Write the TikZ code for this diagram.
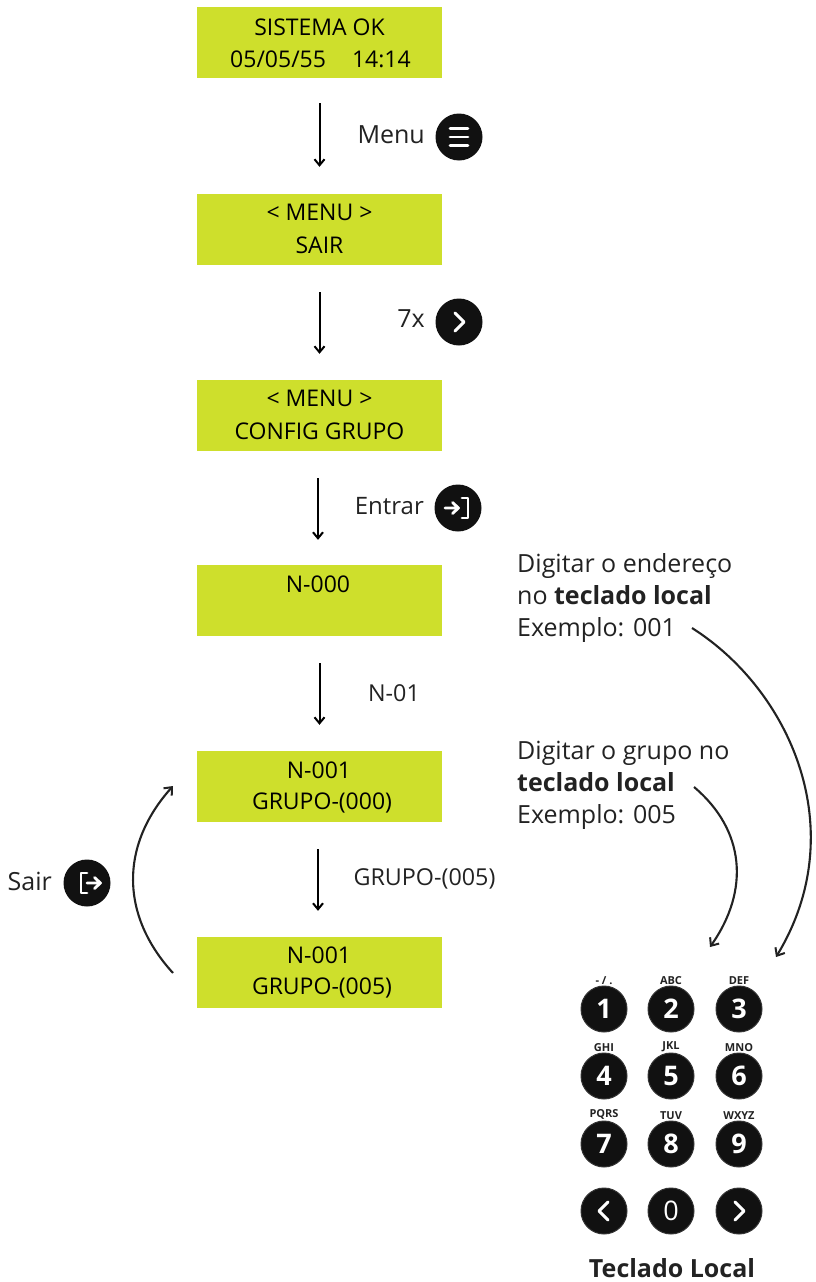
\documentclass[tikz,border=0pt]{standalone}
\usepackage{fontspec}
\setmainfont{Open Sans}
\usetikzlibrary{arrows.meta}
\definecolor{lcd}{HTML}{CEDF2C}
\definecolor{ink}{HTML}{111111}
\definecolor{txt}{HTML}{222222}
\begin{document}
\begin{tikzpicture}[x=1pt,y=-1pt,
  lcdbox/.style={fill=lcd,draw=none,minimum width=245pt,minimum height=71pt,inner sep=0pt},
  lcdtext/.style={font=\fontsize{23}{33}\selectfont,text=black,anchor=center,inner sep=0pt,align=center},
  label/.style={font=\fontsize{25}{32}\selectfont,text=txt,inner sep=0pt,align=left},
  small/.style={font=\fontsize{23.3}{30}\selectfont,text=txt,inner sep=0pt},
  flow/.style={draw=black,line width=2pt,-{Straight Barb[length=6pt,width=10pt,line width=2pt]}},
  curve/.style={draw=txt,line width=2.1pt,-{Straight Barb[length=6.5pt,width=11pt,line width=2pt]}},
  btn/.style={circle,fill=ink,draw=none,minimum size=47pt,inner sep=0pt},
  key/.style={circle,fill=ink,draw=black!80,line width=1pt,minimum size=46pt,inner sep=0pt,text=white,font=\bfseries\fontsize{27}{30}\selectfont},
  keylabel/.style={font=\bfseries\fontsize{11}{12}\selectfont,text=txt,inner sep=0pt},
  glyph/.style={draw=white,line width=2.8pt,line cap=round,line join=round}]
\useasboundingbox (0,0) rectangle (815,1282);
% LCD boxes
\node[lcdbox] (b1) at (319.5,42.5) {};
\node[lcdbox] (b2) at (319.5,229.5) {};
\node[lcdbox] (b3) at (319.5,415.5) {};
\node[lcdbox] (b4) at (319.5,600.5) {};
\node[lcdbox] (b5) at (319.5,786.5) {};
\node[lcdbox] (b6) at (319.5,972.5) {};
\node[lcdtext] (t1a) at (319.5,27) {SISTEMA OK};
\node[lcdtext] (t1b) at (320.5,59) {05/05/55\hspace{26pt}14:14};
\node[lcdtext] (t2a) at (319.5,212) {< MENU >};
\node[lcdtext] (t2b) at (319.5,245) {SAIR};
\node[lcdtext] (t3a) at (319.5,398) {< MENU >};
\node[lcdtext] (t3b) at (319.5,431) {CONFIG GRUPO};
\node[lcdtext] (t4a) at (318,584) {N-000};
\node[lcdtext] (t5a) at (319,770) {N-001};
\node[lcdtext] (t5b) at (322,803) {GRUPO-(000)};
\node[lcdtext] (t6a) at (319,955) {N-001};
\node[lcdtext] (t6b) at (322,988) {GRUPO-(005)};
% flow arrows
\draw[flow,shorten <=25pt,shorten >=27pt] (b1.south) -- (b2.north);
\draw[flow,shorten <=27pt,shorten >=26pt] (b2.south) -- (b3.north);
\draw[flow,shorten <=27pt,shorten >=25pt] ([xshift=-1.5pt]b3.south) -- ([xshift=-1.5pt]b4.north);
\draw[flow,shorten <=27pt,shorten >=26pt] (b4.south) -- (b5.north);
\draw[flow,shorten <=27pt,shorten >=26pt] ([xshift=-1.5pt]b5.south) -- ([xshift=-1.5pt]b6.north);
% flow labels and icons
\node[label,anchor=east] (lmenu) at (425,135) {Menu};
\node[btn] (imenu) at (459,137) {};
\draw[glyph] (450,128.5) -- (468,128.5) (450,137) -- (468,137) (450,145.5) -- (468,145.5);
\node[label,anchor=east] (l7x) at (425,319) {7x};
\node[btn] (inext) at (459,322) {};
\draw[glyph,line width=3pt] (455,313) -- (464,322) -- (455,331);
\node[label,anchor=east,font=\fontsize{24}{32}\selectfont] (lent) at (424,506) {Entrar};
\node[btn] (ient) at (458,508) {};
\draw[glyph] (445,508) -- (458,508) (452.5,502.5) -- (458.5,508) -- (452.5,513.5);
\draw[glyph] (462,498) -- (468,498) -- (468,518) -- (462,518);
\node[small,anchor=center] (ln01) at (394,693) {N-01};
\node[small,anchor=center] (lgrp) at (424.5,879) {GRUPO-(005)};
\node[label,anchor=east] (lsair) at (52,881) {Sair};
\node[btn] (isair) at (87,883) {};
\draw[glyph] (87,873) -- (81,873) -- (81,893) -- (87,893);
\draw[glyph] (87,883) -- (100,883) (94.5,877.5) -- (100.5,883) -- (94.5,888.5);
% return curve
\coordinate (sairA) at (173,973);
\coordinate (sairB) at (173,786);
\draw[curve] (sairA) .. controls (120,915) and (120,845) .. (sairB);
% instructions
\node[label,anchor=north west] (inst1) at (517,553) {Digitar o endereço\\no \textbf{teclado local}\\Exemplo: 001};
\node[label,anchor=north west] (inst2) at (517,741) {Digitar o grupo no\\\textbf{teclado local}\\Exemplo: 005};
\coordinate (c1a) at (692,628);
\coordinate (c1b) at (776,957);
\coordinate (c2a) at (694,787);
\coordinate (c2b) at (710,947);
\draw[curve] (c1a) .. controls (790,690) and (853,830) .. (c1b);
\draw[curve] (c2a) .. controls (745,830) and (750,890) .. (c2b);
% keypad
\foreach \n/\t/\x/\y/\l in {1/1/604/1009/{- / .},2/2/671/1009/ABC,3/3/739/1009/DEF,4/4/604/1076/GHI,5/5/671/1076/JKL,6/6/739/1076/MNO,7/7/604/1144/PQRS,8/8/671/1144/TUV,9/9/739/1144/WXYZ}{
  \node[key] (k\n) at (\x,\y) {\t};
  \node[keylabel,anchor=south] (kl\n) at (\x,\y-24.5) {\l};
}
\node[key] (kprev) at (604,1211) {};
\draw[glyph,line width=3pt] (608,1202) -- (599,1211) -- (608,1220);
\node[key,font=\fontsize{27}{30}\selectfont] (k0) at (671,1211) {0};
\node[key] (knext) at (739,1211) {};
\draw[glyph,line width=3pt] (735,1202) -- (744,1211) -- (735,1220);
\node[font=\bfseries\fontsize{25}{30}\selectfont,text=txt,inner sep=0pt] (ktitle) at (672,1268) {Teclado Local};
\end{tikzpicture}
\end{document}
